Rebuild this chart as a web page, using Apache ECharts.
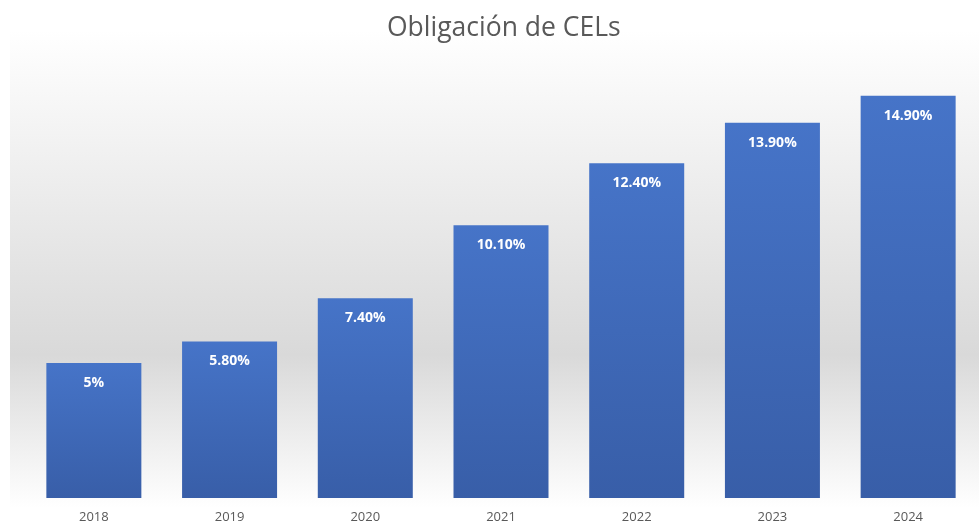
<!DOCTYPE html>
<html>
<head>
<meta charset="utf-8">
<script src="https://cdn.jsdelivr.net/npm/echarts@6/dist/echarts.min.js"></script>
<style>
html, body { margin: 0; padding: 0; background: #ffffff; }
#chart { width: 979px; height: 523px; }
</style>
</head>
<body>
<div id="chart"></div>
<script>
var years = ['2018', '2019', '2020', '2021', '2022', '2023', '2024'];
var values = [5, 5.8, 7.4, 10.1, 12.4, 13.9, 14.9];
var labels = ['5%', '5.80%', '7.40%', '10.10%', '12.40%', '13.90%', '14.90%'];

var dom = document.getElementById('chart');
var myChart = echarts.init(dom, null, { renderer: 'canvas' });

var option = {
    animation: false,
    backgroundColor: '#ffffff',
    title: {
        text: 'Obligación de CELs',
        left: 382,
        top: 10,
        textStyle: {
            fontFamily: 'Open Sans',
            fontSize: 26.5,
            fontWeight: 'normal',
            color: '#595959'
        }
    },
    // gray band behind the plot
    graphic: [
        {
            type: 'rect',
            z: -10,
            left: 10,
            top: 30,
            shape: { width: 969, height: 478 },
            style: {
                fill: new echarts.graphic.LinearGradient(0, 0, 0, 1, [
                    { offset: 0, color: '#ffffff' },
                    { offset: 0.68, color: '#d9d9d9' },
                    { offset: 1, color: '#ffffff' }
                ])
            }
        }
    ],
    grid: {
        left: 26,
        right: 3,
        top: 66,
        bottom: 25,
        outerBoundsMode: 'none'
    },
    xAxis: {
        type: 'category',
        data: years,
        axisLine: { show: false },
        axisTick: { show: false },
        axisLabel: {
            margin: 13,
            fontFamily: 'Open Sans',
            fontSize: 13,
            color: '#595959'
        }
    },
    yAxis: {
        type: 'value',
        min: 0,
        max: 16,
        show: false,
        splitLine: { show: false }
    },
    series: [
        {
            type: 'bar',
            data: values,
            barWidth: 95,
            itemStyle: {
                color: new echarts.graphic.LinearGradient(0, 0, 0, 1, [
                    { offset: 0, color: '#4674c8' },
                    { offset: 1, color: '#385ea8' }
                ])
            },
            label: {
                show: true,
                position: 'insideTop',
                distance: 13,
                formatter: function (p) { return labels[p.dataIndex]; },
                fontFamily: 'Open Sans',
                fontWeight: 'bold',
                fontSize: 14,
                color: '#ffffff'
            }
        }
    ]
};
myChart.setOption(option);
</script>
</body>
</html>
